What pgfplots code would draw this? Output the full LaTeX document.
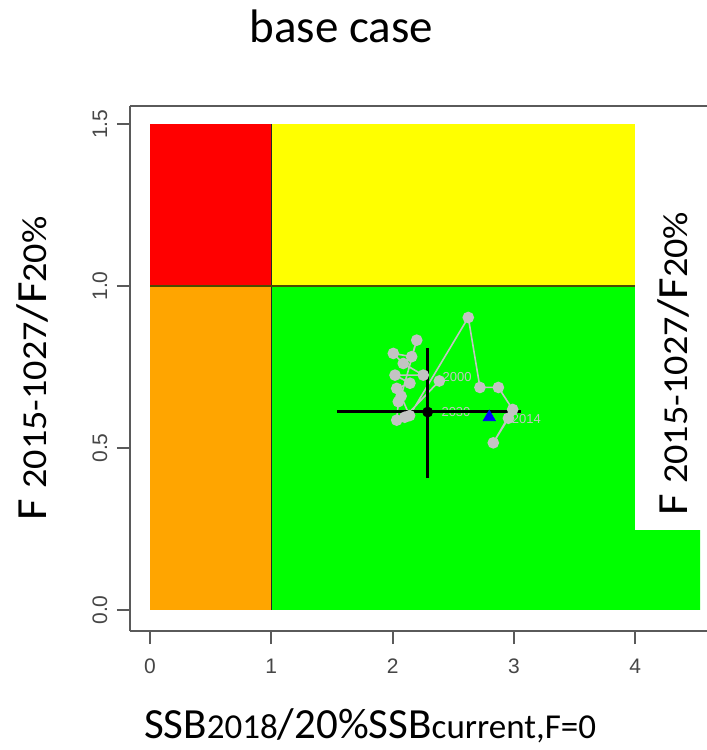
\documentclass[border=0pt]{standalone}
\usepackage{pgfplots}
\pgfplotsset{compat=1.18}
\usepackage{fontspec}
\setmainfont{Carlito}
\newfontfamily\arial{Liberation Sans}
\definecolor{kred}{RGB}{255,0,0}
\definecolor{kyellow}{RGB}{255,255,0}
\definecolor{korange}{RGB}{255,165,0}
\definecolor{kgreen}{RGB}{0,255,0}
\definecolor{kgrey}{RGB}{195,195,195}
\definecolor{axisgrey}{RGB}{90,90,90}
\definecolor{ticktext}{RGB}{70,70,70}
\newcommand{\Lg}{\fontsize{21.5}{24}\selectfont}
\newcommand{\Sm}{\fontsize{17.5}{20}\selectfont}
\begin{document}
\begin{tikzpicture}
\useasboundingbox (-65pt,-59.5pt) rectangle (288.5pt,315.5pt);
\begin{axis}[
  at={(0,0)}, anchor=south west,
  scale only axis, width=288.5pt, height=262.5pt,
  xmin=-0.165, xmax=4.592, ymin=-0.065, ymax=1.556,
  clip=false,
  axis x line*=box, axis y line*=left,
  axis line style={axisgrey, line width=0.9pt, -},
  xtick pos=bottom, ytick pos=left, tick align=outside,
  major tick length=6.5pt,
  every tick/.style={axisgrey, line width=0.9pt},
  xtick={0,1,2,3,4}, ytick={0,0.5,1,1.5},
  /pgf/number format/assume math mode=true,
  xticklabel style={anchor=center, yshift=-11pt, text=ticktext, font=\arial\fontsize{10.5}{12}\selectfont},
  yticklabel style={anchor=center, xshift=-8.5pt, rotate=90, text=ticktext, font=\arial\fontsize{10.5}{12}\selectfont,
    /pgf/number format/fixed, /pgf/number format/fixed zerofill, /pgf/number format/precision=1},
  title={base case},
  every axis title shift=0pt,
  title style={at={(0.366,1.12)}, anchor=base, font=\fontsize{23.5}{26}\selectfont},
  xlabel={{\Lg SSB}{\Sm 2018}{\Lg /20\%SSB}{\Sm current,F=0}},
  xlabel style={at={(0.416,-0.204)}, anchor=base},
  ylabel={{\Lg F }{\Sm 2015-1027}{\Lg /F}{\Sm 20\%}},
  ylabel style={at={(-0.144,0.500)}, anchor=base, xscale=1.09},
]
% zones
\addplot[fill=korange, draw=none] coordinates {(0,0) (1,0) (1,1) (0,1) (0,0)};
\addplot[fill=kred, draw=none] coordinates {(0,1) (1,1) (1,1.5) (0,1.5) (0,1)};
\addplot[fill=kgreen, draw=none] coordinates {(1,0) (4.535,0) (4.535,1) (1,1) (1,0)};
\addplot[fill=kyellow, draw=none] coordinates {(1,1) (4.535,1) (4.535,1.5) (1,1.5) (1,1)};
\addplot[black!85, line width=0.6pt] coordinates {(1,0) (1,1.5)};
\addplot[black!70!kyellow, line width=0.6pt] coordinates {(0,1) (4.535,1)};
% trajectory
\addplot[kgrey, line width=0.8pt, mark=*, mark size=2.5pt, mark options={fill=kgrey, draw=kgrey}] coordinates {
  (2.385,0.707) (2.10,0.595) (2.034,0.586) (2.047,0.643) (2.034,0.684)
  (2.143,0.700) (2.02,0.725) (2.253,0.725) (2.088,0.761) (2.006,0.792)
  (2.157,0.782) (2.199,0.833) (2.07,0.66) (2.14,0.600) (2.624,0.903)
  (2.72,0.687) (2.872,0.687) (2.99,0.619) (2.83,0.516) (2.955,0.592)
};
\node[text=kgrey, font=\arial\fontsize{6.5}{7}\selectfont, anchor=west, inner sep=0pt] at (axis cs:2.41,0.718) {2000};
\node[text=kgrey, font=\arial\fontsize{6.5}{7}\selectfont, anchor=west, inner sep=0pt] at (axis cs:2.98,0.588) {2014};
\node[text=kgrey, font=\arial\fontsize{6.5}{7}\selectfont, anchor=west, inner sep=0pt] at (axis cs:2.40,0.610) {2030};
% current status with CI
\addplot[black, line width=1.5pt] coordinates {(1.54,0.612) (3.06,0.612)};
\addplot[black, line width=1.5pt] coordinates {(2.289,0.407) (2.289,0.809)};
\addplot[only marks, mark=*, mark size=2.5pt, black] coordinates {(2.289,0.611)};
\addplot[only marks, mark=triangle*, mark size=3.5pt, blue] coordinates {(2.797,0.595)};
% pasted white box with label
\fill[white] (axis cs:4.0,0.247) rectangle (axis cs:4.592,1.503);
\node[rotate=90, xscale=1.09, anchor=base] at (axis cs:4.435,0.760) {{\Lg F }{\Sm 2015-1027}{\Lg /F}{\Sm 20\%}};
\end{axis}
\end{tikzpicture}
\end{document}
